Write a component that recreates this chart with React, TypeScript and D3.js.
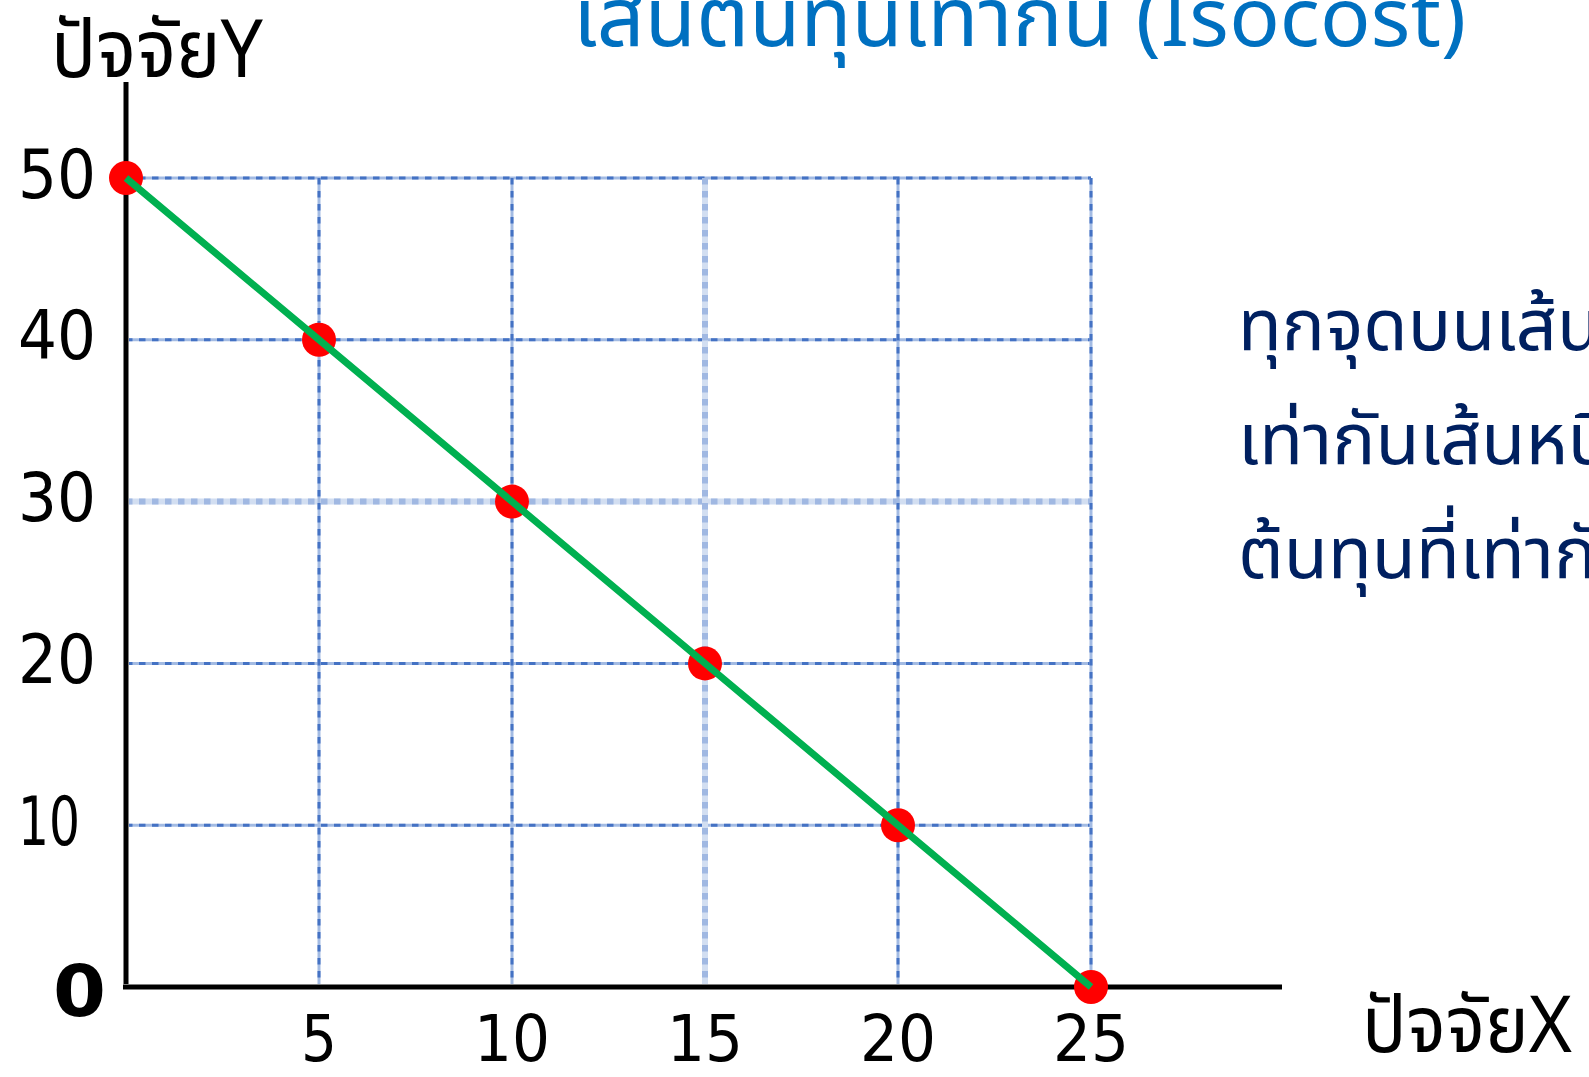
import React from "react";
import * as d3 from "d3";

// Isocost line: combinations of factor X and factor Y with equal total cost
const factorX = [0, 5, 10, 15, 20, 25];
const factorY = [50, 40, 30, 20, 10, 0];
const xTicks = [5, 10, 15, 20, 25];
const yTicks = [10, 20, 30, 40, 50];
const xTickLabels = ["5", "10", "15", "20", "25"];
const yTickLabels = ["10", "20", "30", "40", "50"];
// grid lines drawn in the softer, wider style
const softXGrid = [15];
const softYGrid = [30];

const titleText = "เส้นต้นทุนเท่ากัน (Isocost)";
const yAxisTitle = "ปัจจัยY";
const xAxisTitle = "ปัจจัยX";
const noteLines = [
  "ทุกจุดบนเส้นต้นทุน",
  "เท่ากันเส้นหนึ่งจะมี",
  "ต้นทุนที่เท่ากัน",
];

const W = 1589;
const H = 1077;
const THAI = "'Noto Sans Thai', 'Noto Sans Thai UI', 'Noto Sans', 'DejaVu Sans', sans-serif";
const DIGITS = "'DejaVu Sans', 'Noto Sans', sans-serif";

const x = d3.scaleLinear().domain([0, 25]).range([126, 1091]);
const y = d3.scaleLinear().domain([0, 50]).range([987, 178]);

const line = d3
  .line<number>()
  .x((_, i) => x(factorX[i]))
  .y((d) => y(d));

function GridLine({ x1, y1, x2, y2, soft }: { x1: number; y1: number; x2: number; y2: number; soft: boolean }) {
  return (
    <g>
      <line x1={x1} y1={y1} x2={x2} y2={y2} stroke={soft ? "#D2DEF1" : "#A3BBE3"} strokeWidth={soft ? 6 : 3} />
      <line
        x1={x1}
        y1={y1}
        x2={x2}
        y2={y2}
        stroke={soft ? "#A0B8E2" : "#4472C4"}
        strokeWidth={soft ? 6 : 3}
        strokeDasharray="6.5 6.5"
      />
    </g>
  );
}

export default function App() {
  const x0 = x(0);
  const y0 = y(0);
  return (
    <svg
      width={W}
      height={H}
      viewBox={`0 0 ${W} ${H}`}
      style={{ position: "absolute", left: 0, top: 0, background: "#fff" }}
    >
      <rect width={W} height={H} fill="#fff" />

      {/* grid */}
      {yTicks.map((t) => (
        <GridLine key={`gy${t}`} x1={x0} y1={y(t)} x2={x(25)} y2={y(t)} soft={softYGrid.includes(t)} />
      ))}
      {xTicks.map((t) => (
        <GridLine key={`gx${t}`} x1={x(t)} y1={y(50)} x2={x(t)} y2={y0} soft={softXGrid.includes(t)} />
      ))}

      {/* axes */}
      <g>
        <line x1={x0} y1={82} x2={x0} y2={y0 + 3} stroke="#7F7F7F" strokeWidth={6} />
        <line x1={x0} y1={82} x2={x0} y2={y0 + 3} stroke="#000" strokeWidth={4} />
        <line x1={x0 - 3} y1={y0} x2={1282} y2={y0} stroke="#7F7F7F" strokeWidth={6} />
        <line x1={x0 - 3} y1={y0} x2={1282} y2={y0} stroke="#000" strokeWidth={4} />
      </g>

      {/* points */}
      {factorY.map((v, i) => (
        <circle key={`p${i}`} cx={x(factorX[i])} cy={y(v)} r={17} fill="#FF0000" />
      ))}

      {/* isocost line */}
      <path d={line(factorY) || ""} fill="none" stroke="#00B050" strokeWidth={7} />

      {/* y tick labels */}
      {yTickLabels.map((lab, i) => (
        <text
          key={`yl${i}`}
          x={18}
          y={y(yTicks[i]) - 4}
          dominantBaseline="central"
          fontFamily={DIGITS}
          fontSize={68}
          fill="#000"
          textLength={lab === "10" ? 62 : 78}
          lengthAdjust="spacingAndGlyphs"
        >
          {lab}
        </text>
      ))}
      <text
        x={53}
        y={y(0) + 4}
        dominantBaseline="central"
        fontFamily={DIGITS}
        fontSize={72}
        fontWeight="bold"
        fill="#000"
        textLength={53}
        lengthAdjust="spacingAndGlyphs"
      >
        0
      </text>

      {/* x tick labels */}
      {xTickLabels.map((lab, i) => (
        <text
          key={`xl${i}`}
          x={x(xTicks[i])}
          y={1061}
          textAnchor="middle"
          fontFamily={DIGITS}
          fontSize={64}
          fill="#000"
          textLength={lab.length === 1 ? 36 : 76}
          lengthAdjust="spacingAndGlyphs"
        >
          {lab}
        </text>
      ))}

      {/* axis titles */}
      <text x={51} y={77} fontFamily={THAI} fontSize={80} fill="#000" textLength={212} lengthAdjust="spacingAndGlyphs">
        {yAxisTitle}
      </text>
      <text x={1362} y={1052} fontFamily={THAI} fontSize={78} fill="#000" textLength={210} lengthAdjust="spacingAndGlyphs">
        {xAxisTitle}
      </text>

      {/* title */}
      <text x={573} y={46} fontFamily={THAI} fontSize={82} fill="#0070C0" textLength={893} lengthAdjust="spacingAndGlyphs">
        {titleText}
      </text>

      {/* note */}
      {noteLines.map((t, i) => (
        <text key={`n${i}`} x={1238} y={350 + i * 114} fontFamily={THAI} fontSize={72} fill="#002060">
          {t}
        </text>
      ))}
    </svg>
  );
}
